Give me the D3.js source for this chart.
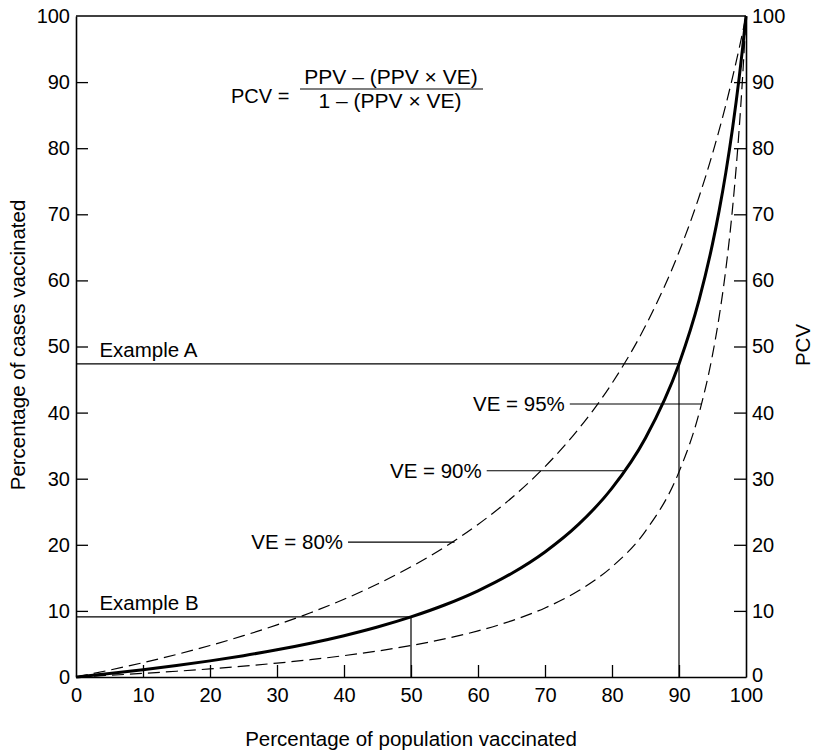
<!DOCTYPE html>
<html>
<head>
<meta charset="utf-8">
<script src="https://cdn.jsdelivr.net/npm/d3@7"></script>
<style>
  html, body { margin: 0; padding: 0; background: #fff; }
  svg { display: block; }
  text { font-family: "Liberation Sans", Arial, Helvetica, sans-serif; fill: #000; }
</style>
</head>
<body>
<svg id="chart" width="816" height="751"></svg>
<script>
// ---- data ----
const ppv = [0, 5, 10, 15, 20, 25, 30, 35, 40, 45, 50, 55, 60, 65, 70, 75, 80, 85, 90, 93, 95, 96, 97, 98, 99, 99.5, 100];
const pcvVE80 = [0, 1.04, 2.17, 3.41, 4.76, 6.25, 7.89, 9.72, 11.76, 14.06, 16.67, 19.64, 23.08, 27.08, 31.82, 37.5, 44.44, 53.13, 64.29, 72.66, 79.17, 82.76, 86.61, 90.74, 95.19, 97.55, 100];
const pcvVE90 = [0, 0.52, 1.10, 1.73, 2.44, 3.23, 4.11, 5.11, 6.25, 7.56, 9.09, 10.89, 13.04, 15.66, 18.92, 23.08, 28.57, 36.17, 47.37, 57.06, 65.52, 70.59, 76.38, 83.05, 90.83, 95.22, 100];
const pcvVE95 = [0, 0.26, 0.55, 0.87, 1.23, 1.64, 2.10, 2.62, 3.23, 3.93, 4.76, 5.76, 6.98, 8.50, 10.45, 13.04, 16.67, 22.08, 31.03, 39.91, 48.72, 54.55, 61.78, 71.01, 83.19, 90.87, 100];
const tickValues = [0, 10, 20, 30, 40, 50, 60, 70, 80, 90, 100];
const seriesNames = ["VE = 80%", "VE = 90%", "VE = 95%"];
// label leaders: [start x, end x on curve, y]
const leaderStartX = [40.6, 61.3, 73.7];
const leaderEndX = [56.5, 81.9, 93.4];
const leaderY = [20.4, 31.2, 41.3];
const exampleNames = ["Example A", "Example B"];
const exampleX = [90, 50];
const exampleY = [47.37, 9.09];

// ---- chart ----
const svg = d3.select("#chart");
const x = d3.scaleLinear().domain([0, 100]).range([76, 746]);
const y = d3.scaleLinear().domain([0, 100]).range([677, 16]);
const fontSize = 20;
const labelSize = 20.5;

// Axes
const gL = svg.append("g").attr("transform", `translate(${x(0)},0)`)
  .call(d3.axisLeft(y).tickValues(tickValues).tickSize(-12).tickSizeOuter(0).tickPadding(6));
const gR = svg.append("g").attr("transform", `translate(${x(100)},0)`)
  .call(d3.axisRight(y).tickValues(tickValues).tickSize(-12).tickSizeOuter(0).tickPadding(6));
const gB = svg.append("g").attr("transform", `translate(0,${y(0)})`)
  .call(d3.axisBottom(x).tickValues(tickValues).tickSize(-12).tickSizeOuter(0).tickPadding(11));
[gL, gR, gB].forEach(g => {
  g.selectAll("text").style("font-size", fontSize + "px").attr("fill", "#000")
    .style("font-family", '"Liberation Sans", Arial, sans-serif');
  g.select(".domain").attr("stroke", "#000").attr("stroke-width", 1.6);
  g.selectAll(".tick line").attr("stroke", "#000").attr("stroke-width", 1.3);
});
// right-axis 0 label sits a little higher to clear the bottom labels
gR.selectAll(".tick").filter(d => d === 0).select("text").attr("dy", "0.2em");
gL.selectAll(".tick").filter(d => d === 0 || d === 100).select("line").remove();
gR.selectAll(".tick").filter(d => d === 0 || d === 100).select("line").remove();
gB.selectAll(".tick").filter(d => d === 0 || d === 100).select("line").remove();
// top frame line
svg.append("line").attr("x1", x(0)).attr("x2", x(100)).attr("y1", y(100)).attr("y2", y(100))
  .attr("stroke", "#000").attr("stroke-width", 1.4);

// Examples
exampleNames.forEach((name, i) => {
  svg.append("path")
    .attr("d", `M${x(0)},${y(exampleY[i])}H${x(exampleX[i])}V${y(0)}`)
    .attr("fill", "none").attr("stroke", "#000").attr("stroke-width", 1.2);
  svg.append("text").attr("x", x(3.5)).attr("y", y(exampleY[i]) - 7)
    .style("font-size", labelSize + "px").text(name);
});

// Curves
const line = d3.line().x(d => x(d[0])).y(d => y(d[1])).curve(d3.curveMonotoneX);
const series = [pcvVE80, pcvVE90, pcvVE95];
series.forEach((vals, i) => {
  const pts = ppv.map((p, j) => [p, vals[j]]);
  svg.append("path").datum(pts).attr("d", line)
    .attr("fill", "none").attr("stroke", "#000")
    .attr("stroke-width", i === 1 ? 3 : 1.2)
    .attr("stroke-dasharray", i === 1 ? null : "12,6");
});

// Series labels with leaders
seriesNames.forEach((name, i) => {
  svg.append("line")
    .attr("x1", x(leaderStartX[i])).attr("x2", x(leaderEndX[i]))
    .attr("y1", y(leaderY[i])).attr("y2", y(leaderY[i]))
    .attr("stroke", "#000").attr("stroke-width", 1.2);
  svg.append("text").attr("x", x(leaderStartX[i]) - 5).attr("y", y(leaderY[i]) + 7)
    .attr("text-anchor", "end").style("font-size", labelSize + "px").text(name);
});

// Formula
svg.append("text").attr("x", 231).attr("y", 103).style("font-size", "20px").text("PCV =");
svg.append("text").attr("x", 391).attr("y", 84).attr("text-anchor", "middle")
  .style("font-size", "21px").text("PPV \u2013 (PPV \u00d7 VE)");
svg.append("line").attr("x1", 300).attr("x2", 483).attr("y1", 89).attr("y2", 89)
  .attr("stroke", "#000").attr("stroke-width", 1.2);
svg.append("text").attr("x", 390).attr("y", 108).attr("text-anchor", "middle")
  .style("font-size", "21px").text("1 \u2013 (PPV \u00d7 VE)");

// Axis titles
svg.append("text").attr("x", 411).attr("y", 746).attr("text-anchor", "middle")
  .style("font-size", labelSize + "px").text("Percentage of population vaccinated");
svg.append("text").attr("transform", "translate(25,345) rotate(-90)").attr("text-anchor", "middle")
  .style("font-size", labelSize + "px").text("Percentage of cases vaccinated");
svg.append("text").attr("transform", "translate(810,345) rotate(-90)").attr("text-anchor", "middle")
  .style("font-size", labelSize + "px").text("PCV");
</script>
</body>
</html>
